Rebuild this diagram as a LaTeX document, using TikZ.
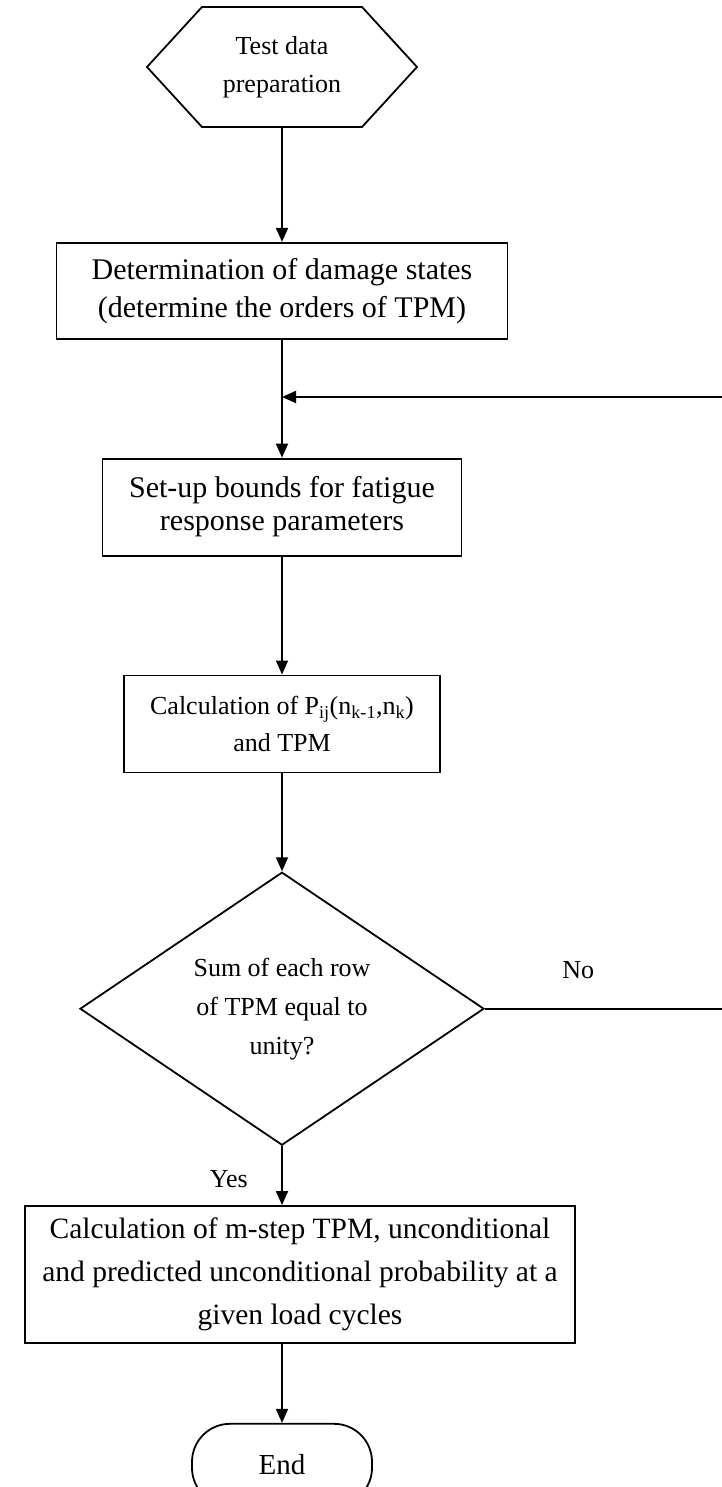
\documentclass[tikz,border=0pt]{standalone}
\usepackage{fontspec}
\setmainfont{Liberation Serif}
\usetikzlibrary{arrows.meta,positioning,shapes.geometric,shapes.symbols}

\begin{document}
\begin{tikzpicture}[x=1pt, y=1pt, line width=1.8pt, >={Triangle[length=14pt,width=12pt]},
    proc/.style={draw, rectangle, align=center, inner sep=0pt, font=\fontsize{30}{38}\selectfont},
    startbox/.style={draw, shape=signal, signal to=east and west, signal pointer angle=95,
      minimum width=270pt, minimum height=120pt, inner sep=0pt, align=center, font=\fontsize{26}{38}\selectfont},
    check/.style={draw, diamond, aspect=1.48, minimum width=404pt, minimum height=273pt,
      inner sep=0pt, align=center, font=\fontsize{26}{39}\selectfont},
    stopbox/.style={draw, rounded corners=38pt, minimum width=180pt, minimum height=82pt, font=\fontsize{29}{35}\selectfont},
    lbl/.style={font=\fontsize{26}{30}\selectfont}]
\useasboundingbox (0,0) rectangle (722,-1487);

\node[startbox] (prep) at (282,-67) {Test data\\preparation};
\node[proc, minimum width=451pt, minimum height=96pt, below=114pt of prep] (states)
  {Determination of damage states\\(determine the orders of TPM)};
\node[proc, minimum width=359pt, minimum height=97pt, font=\fontsize{30}{33}\selectfont, below=118pt of states] (bounds)
  {Set-up bounds for fatigue\\response parameters};
\node[proc, minimum width=316pt, minimum height=97pt, font=\fontsize{26}{37}\selectfont, below=118pt of bounds] (calc)
  {Calculation of P\textsubscript{ij}(n\textsubscript{k-1},n\textsubscript{k})\\and TPM};
\node[check, below=98pt of calc] (sumchk) {Sum of each row\\of TPM equal to\\unity?};
\node[proc, minimum width=550pt, minimum height=137pt, font=\fontsize{29.5}{43}\selectfont,
  below=59pt of sumchk, xshift=18pt] (mstep)
  {Calculation of m-step TPM, unconditional\\and predicted unconditional probability at a\\given load cycles};
\node[stopbox, below=79pt of mstep, xshift=-18pt] (stop) {End};

% loop back when rows do not sum to one
\coordinate (rim) at (724,-397);
\coordinate (back) at (states.south |- rim);

\draw[->] (prep) -- (states);
\draw[->] (states) -- (bounds);
\draw[->] (bounds) -- (calc);
\draw[->] (calc) -- (sumchk);
\draw[->] (sumchk.south) -- (sumchk.south |- mstep.north)
  node[midway, left=30pt, yshift=-4pt, lbl] (yes) {Yes};
\draw[->] (sumchk.east) -- (sumchk.east -| rim)
  node[pos=0.39, above=26pt, lbl] (no) {No} |- (back);
\draw[->] (stop.north -| sumchk.south) ++(0,79pt) -- (stop.north);
\end{tikzpicture}
\end{document}
